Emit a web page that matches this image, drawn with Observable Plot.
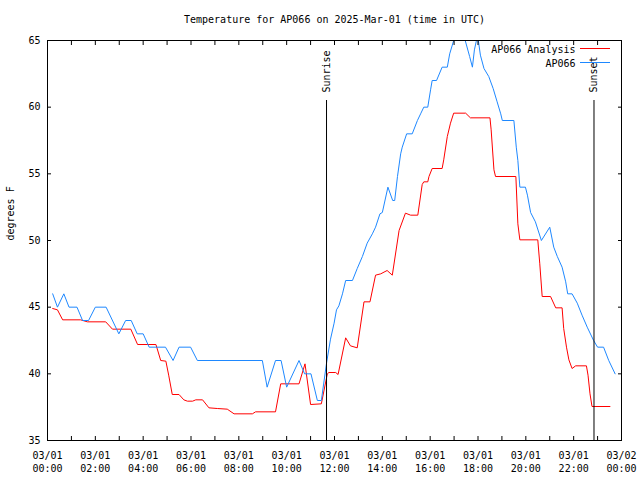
<!DOCTYPE html>
<html><head><meta charset="utf-8">
<script src="https://cdn.jsdelivr.net/npm/d3@7"></script>
<script src="https://cdn.jsdelivr.net/npm/@observablehq/plot@0.6"></script>
<style>html,body{margin:0;padding:0;background:#fff;} svg{display:block;}</style>
</head><body><div id="chart"></div>
<script>
const title = "Temperature for AP066 on 2025-Mar-01 (time in UTC)";
const yLabel = "degrees F";
const day = "2025-03-01";
const obsName = "AP066";
const anaName = "AP066 Analysis";

const obsTimes = ["00:13","00:25","00:41","00:54","01:14","01:28","01:43","02:00","02:27","02:59",
  "03:16","03:30","03:45","04:00","04:15","04:56","05:15","05:30","05:59","06:16",
  "08:59","09:11","09:32","09:46","10:00","10:31","10:45","11:01","11:17","11:27",
  "11:40","11:50","11:59","12:05","12:11","12:20","12:28","12:45","12:57","13:10",
  "13:22","13:35","13:43","13:54","14:00","14:14","14:26","14:31","14:38","14:46",
  "14:50","15:01","15:15","15:28","15:36","15:44","15:54","16:01","16:05","16:16",
  "16:30","16:43","16:49","16:59","17:14","17:27","17:39","17:46","17:51","17:59",
  "18:06","18:15","18:27","18:38","18:48","18:57","19:01","19:30","19:36","19:40",
  "19:45","19:59","20:04","20:12","20:24","20:39","21:00","21:10","21:19","21:31",
  "21:40","21:45","21:56","22:09","22:21","22:34","22:50","23:00","23:15","23:28","23:44"];
const obsTemps = [46,45,46,45,45,44,44,45,45,43,
  44,44,43,43,42,42,41,42,42,41,
  41,39,41,41,39,41,40,40,38,38,
  40.8,42.6,43.8,44.8,45.1,46,47,47,47.9,48.8,
  49.8,50.5,51,52,52.1,54,53,53,54.8,56.5,
  57,58,58,59,59.5,60,60,61.3,62,62,
  63,63,64,65,66.5,65.1,63.8,63,64.3,65.4,
  63.9,62.9,62.3,61.4,60.4,59.5,59,59,57,56,
  54,54,53.4,52.1,51.4,50,51,49.5,48.8,48,
  46.9,46,46,45.3,44.4,43.5,42.5,42,42,41,40];

const anaTimes = ["00:13","00:25","00:38","01:23","01:40","02:26","02:43","03:29","03:46","04:32",
  "04:44","04:57","05:04","05:13","05:30","05:42","05:51","06:04","06:12","06:29",
  "06:45","07:06","07:31","07:48","08:34","08:42","09:32","09:45","10:31","10:46",
  "11:00","11:27","11:42","11:46","12:03","12:09","12:28","12:40","12:57","13:14",
  "13:29","13:43","13:56","14:12","14:25","14:42","14:58","15:11","15:29","15:40",
  "15:44","15:54","15:57","16:05","16:30","16:34","16:43","16:51","16:59","17:29",
  "17:41","18:30","18:33","18:40","18:44","19:35","19:40","19:45","20:30","20:35",
  "20:41","21:02","21:15","21:31","21:35","21:42","21:48","21:56","22:05","22:32",
  "22:36","22:41","22:46","23:31"];
const anaTemps = [44.9,44.8,44.05,44.05,43.9,43.9,43.35,43.35,42.2,42.2,
  41,40.95,39.9,38.45,38.45,38.05,37.95,37.95,38.05,38.05,
  37.45,37.4,37.35,37.0,37.0,37.15,37.15,39.25,39.25,40.75,
  37.7,37.75,40.0,40.1,40.1,39.95,42.7,42.1,41.95,45.4,
  45.4,47.4,47.5,47.75,47.4,50.75,52.05,51.9,51.9,54.2,
  54.4,54.4,54.8,55.4,55.4,56.05,57.8,58.8,59.55,59.55,
  59.2,59.2,58.3,55.3,54.8,54.8,51.25,50.05,50.05,48.25,
  45.8,45.8,44.95,44.95,43.4,42,41.05,40.4,40.6,40.6,
  39.9,38.5,37.55,37.55];

const sunLabels = ["Sunrise", "Sunset"];
const sunTimes = ["11:40", "22:51"];
const sunLineTop = 60.5;

const yTicks = [35, 40, 45, 50, 55, 60, 65];
const yDomain = [35, 65];

const obsColor = "#1e88ff";
const anaColor = "#ff0000";
const font = "'DejaVu Sans Mono', 'Liberation Mono', monospace";

const toDate = t => new Date(`${day}T${t}:00Z`);
const obs = obsTimes.map((t, i) => ({time: toDate(t), temp: obsTemps[i]}));
const ana = anaTimes.map((t, i) => ({time: toDate(t), temp: anaTemps[i]}));
const sun = sunTimes.map((t, i) => ({time: toDate(t), label: sunLabels[i]}));
const x0 = toDate("00:00");
const x1 = d3.utcDay.offset(x0, 1);
const labelTicks = d3.utcHour.every(2).range(x0, d3.utcMinute.offset(x1, 1));
const hourTicks = d3.utcHour.range(x0, d3.utcMinute.offset(x1, 1));

function legendSwatch(color, yOffset) {
  return (index, scales, values, dim) => {
    const right = dim.width - dim.marginRight;
    const g = d3.create("svg:g");
    g.append("line")
      .attr("x1", right - 41).attr("x2", right - 11)
      .attr("y1", dim.marginTop + yOffset + 0.5).attr("y2", dim.marginTop + yOffset + 0.5)
      .attr("stroke", color).attr("stroke-width", 1)
      .attr("shape-rendering", "crispEdges");
    return g.node();
  };
}

const blank = () => "";

const chart = Plot.plot({
  width: 640, height: 480,
  marginLeft: 47, marginRight: 19, marginTop: 40, marginBottom: 40,
  style: {fontFamily: font, fontSize: "10px", color: "#000", background: "#fff"},
  x: {type: "utc", domain: [x0, x1]},
  y: {domain: yDomain},
  marks: [
    Plot.line(ana, {x: "time", y: "temp", stroke: anaColor, strokeWidth: 1, clip: true}),
    Plot.line(obs, {x: "time", y: "temp", stroke: obsColor, strokeWidth: 1, clip: true}),
    Plot.ruleX(sun, {x: "time", y1: yDomain[0], y2: sunLineTop, stroke: "#000", strokeWidth: 1}),
    Plot.text(sun, {x: "time", y: sunLineTop, text: "label", rotate: -90, textAnchor: "start", lineAnchor: "middle", dy: -8, fill: "#000"}),
    // tick marks (inward, mirrored)
    Plot.axisX(hourTicks, {anchor: "bottom", tickSize: 4, dy: -4, tickFormat: blank, label: null}),
    Plot.axisX(hourTicks, {anchor: "top", tickSize: 4, dy: 4, tickFormat: blank, label: null}),
    Plot.axisY(yTicks, {anchor: "left", tickSize: 4, dx: 4, tickFormat: blank, label: null}),
    Plot.axisY(yTicks, {anchor: "right", tickSize: 4, dx: -4, tickFormat: blank, label: null}),
    // tick labels
    Plot.axisX(labelTicks, {anchor: "bottom", tickSize: 0, tickPadding: 11, tickFormat: d3.utcFormat("%m/%d"), label: null}),
    Plot.axisX(labelTicks, {anchor: "bottom", tickSize: 0, tickPadding: 24, tickFormat: d3.utcFormat("%H:%M"), label: null}),
    Plot.axisY(yTicks, {anchor: "left", tickSize: 0, tickPadding: 7, tickFormat: d => String(d), label: null}),
    Plot.frame({stroke: "#000", strokeWidth: 1}),
    // title and y label
    Plot.text([title], {frameAnchor: "top", lineAnchor: "middle", dy: -21, fill: "#000"}),
    Plot.text([yLabel], {frameAnchor: "left", lineAnchor: "middle", dx: -37, rotate: -90, fill: "#000"}),
    // key
    Plot.text([anaName], {frameAnchor: "top-right", textAnchor: "end", lineAnchor: "middle", dx: -46, dy: 9, fill: "#000"}),
    Plot.text([obsName], {frameAnchor: "top-right", textAnchor: "end", lineAnchor: "middle", dx: -46, dy: 23, fill: "#000"}),
    legendSwatch(anaColor, 8),
    legendSwatch(obsColor, 22)
  ]
});
document.getElementById("chart").appendChild(chart);
</script>
</body></html>
